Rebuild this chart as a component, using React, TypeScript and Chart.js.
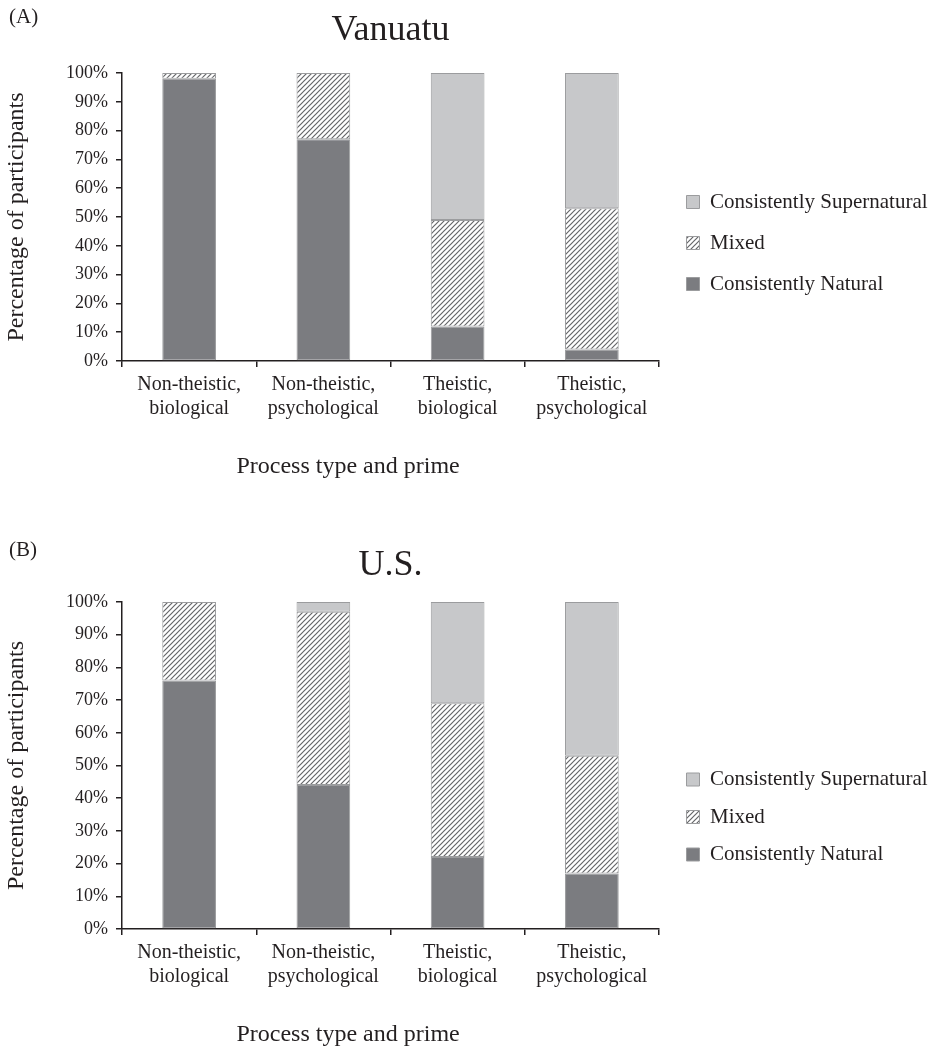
import React, { useEffect, useRef } from 'react';
import { Chart, registerables } from 'chart.js';

Chart.register(...registerables);

// ---- data ----
const categories: string[][] = [
  ['Non-theistic,', 'biological'],
  ['Non-theistic,', 'psychological'],
  ['Theistic,', 'biological'],
  ['Theistic,', 'psychological'],
];
const seriesNames = ['Consistently Natural', 'Mixed', 'Consistently Supernatural'];

const vanuatuNatural = [98, 77, 12, 4];
const vanuatuMixed = [2, 23, 37, 49];
const vanuatuSupernatural = [0, 0, 51, 47];

const usNatural = [76, 44, 22, 17];
const usMixed = [24, 53, 47, 36];
const usSupernatural = [0, 3, 31, 47];

const yMin = 0;
const yMax = 100;
const yStep = 10;

const xAxisTitle = 'Process type and prime';
const yAxisTitle = 'Percentage of participants';

const FONT = "'Liberation Serif', 'Times New Roman', serif";
const TEXT = '#231f20';
const NATURAL = '#7b7c80';
const SUPER = '#c7c8ca';
const EDGE = '#9b9c9e';

function makeHatch(): CanvasPattern | string {
  const s = 5;
  const c = document.createElement('canvas');
  c.width = s;
  c.height = s;
  const g = c.getContext('2d');
  if (!g) return '#ddd';
  g.fillStyle = '#ffffff';
  g.fillRect(0, 0, s, s);
  g.strokeStyle = '#656669';
  g.lineWidth = 1.2;
  g.beginPath();
  g.moveTo(0, s);
  g.lineTo(s, 0);
  g.moveTo(-1, 1);
  g.lineTo(1, -1);
  g.moveTo(s - 1, s + 1);
  g.lineTo(s + 1, s - 1);
  g.stroke();
  return g.createPattern(c, 'repeat') || '#ddd';
}

// draws the x-axis title below the category labels (offset to the left as in the original)
const xTitlePlugin = {
  id: 'xTitleOffset',
  afterDraw(chart: any, _args: any, opts: any) {
    const { ctx, chartArea } = chart;
    if (!chartArea) return;
    ctx.save();
    ctx.font = `${opts.size}px ${FONT}`;
    ctx.fillStyle = TEXT;
    ctx.textAlign = 'center';
    ctx.textBaseline = 'middle';
    const x = chartArea.left + (chartArea.right - chartArea.left) * opts.frac;
    const y = chartArea.bottom + opts.dy;
    ctx.fillText(opts.text, x, y);
    ctx.restore();
  },
};

type PanelProps = {
  title: string;
  natural: number[];
  mixed: number[];
  supernatural: number[];
  height: number;
  titlePadTop: number;
  titlePadBottom: number;
  legendGap: number;
  legendShift: number;
  spacer: number;
  legendWidth: number;
};

function Panel(props: PanelProps) {
  const ref = useRef<HTMLCanvasElement | null>(null);
  useEffect(() => {
    if (!ref.current) return;
    const hatch = makeHatch();
    const chart = new Chart(ref.current, {
      type: 'bar',
      data: {
        labels: categories,
        datasets: [
          {
            label: seriesNames[0],
            data: props.natural,
            backgroundColor: NATURAL,
            borderColor: EDGE,
            borderWidth: 1,
            borderSkipped: false,
          },
          {
            label: seriesNames[1],
            data: props.mixed,
            backgroundColor: hatch as any,
            borderColor: EDGE,
            borderWidth: 1,
            borderSkipped: false,
          },
          {
            label: seriesNames[2],
            data: props.supernatural,
            backgroundColor: SUPER,
            borderColor: EDGE,
            borderWidth: 1,
            borderSkipped: false,
          },
        ],
      },
      plugins: [xTitlePlugin as any],
      options: {
        responsive: false,
        animation: false,
        devicePixelRatio: 1,
        layout: { padding: 0 },
        datasets: {
          bar: { barPercentage: 0.4, categoryPercentage: 1.0 },
        },
        scales: {
          x: {
            stacked: true,
            grid: {
              offset: true,
              drawOnChartArea: false,
              drawTicks: true,
              tickLength: 6,
              color: TEXT,
              lineWidth: 1.5,
            },
            border: { display: true, color: TEXT, width: 1.5 },
            ticks: {
              color: TEXT,
              font: { family: FONT, size: 20 },
              padding: 6,
              maxRotation: 0,
              autoSkip: false,
            },
            title: { display: false },
            afterFit: (s: any) => {
              s.height = 121;
            },
          },
          y: {
            stacked: true,
            min: yMin,
            max: yMax,
            grid: {
              drawOnChartArea: false,
              drawTicks: true,
              tickLength: 6,
              color: TEXT,
              lineWidth: 1.5,
            },
            border: { display: true, color: TEXT, width: 1.5 },
            ticks: {
              stepSize: yStep,
              color: TEXT,
              font: { family: FONT, size: 18 },
              padding: 8,
              callback: (v: any) => `${v}%`,
            },
            title: {
              display: true,
              text: yAxisTitle,
              color: TEXT,
              font: { family: FONT, size: 24 },
              padding: { top: 2, bottom: 0 },
            },
            afterFit: (s: any) => {
              s.width = 122;
            },
          },
          spacer: {
            type: 'linear',
            position: 'right',
            display: true,
            grid: { display: false, drawTicks: false },
            border: { display: false },
            ticks: { display: false },
            afterFit: (s: any) => {
              s.width = props.spacer;
            },
          },
        } as any,
        plugins: {
          tooltip: { enabled: false },
          xTitleOffset: { text: xAxisTitle, size: 24, frac: 0.421, dy: 106 },
          title: {
            display: true,
            text: props.title,
            fullSize: false,
            color: TEXT,
            font: { family: FONT, size: 36, weight: 'normal' },
            padding: { top: props.titlePadTop, bottom: props.titlePadBottom },
          },
          legend: {
            display: true,
            position: 'right',
            reverse: true,
            maxWidth: props.legendWidth,
            title: {
              display: props.legendShift > 0,
              text: '',
              font: { family: FONT, size: 2 },
              padding: { top: Math.max(0, props.legendShift - 2.4), bottom: 0 },
            },
            labels: {
              color: TEXT,
              font: { family: FONT, size: 21 },
              boxWidth: 13,
              boxHeight: 13,
              padding: props.legendGap,
            },
          },
        },
      } as any,
    });
    return () => chart.destroy();
  }, []);
  return (
    <canvas
      ref={ref}
      width={930}
      height={props.height}
      style={{ display: 'block', width: 930, height: props.height }}
    />
  );
}

const letterStyle: React.CSSProperties = {
  position: 'absolute',
  left: 9,
  fontFamily: FONT,
  fontSize: 21,
  color: TEXT,
  lineHeight: '24px',
};

export default function App() {
  return (
    <div
      style={{
        position: 'absolute',
        left: 0,
        top: 0,
        width: 930,
        height: 1050,
        background: '#ffffff',
        overflow: 'hidden',
      }}
    >
      <div style={{ position: 'absolute', left: 0, top: 0 }}>
        <Panel
          title="Vanuatu"
          natural={vanuatuNatural}
          mixed={vanuatuMixed}
          supernatural={vanuatuSupernatural}
          height={482}
          titlePadTop={9.4}
          titlePadBottom={20.4}
          legendGap={20}
          legendShift={4}
          spacer={7.5}
          legendWidth={263.5}
        />
      </div>
      <div style={{ position: 'absolute', left: 0, top: 520 }}>
        <Panel
          title="U.S."
          natural={usNatural}
          mixed={usMixed}
          supernatural={usSupernatural}
          height={530}
          titlePadTop={24.4}
          titlePadBottom={14.4}
          legendGap={16.5}
          legendShift={64}
          spacer={11}
          legendWidth={260}
        />
      </div>
      <div style={{ ...letterStyle, top: 4 }}>(A)</div>
      <div style={{ ...letterStyle, top: 537 }}>(B)</div>
    </div>
  );
}
